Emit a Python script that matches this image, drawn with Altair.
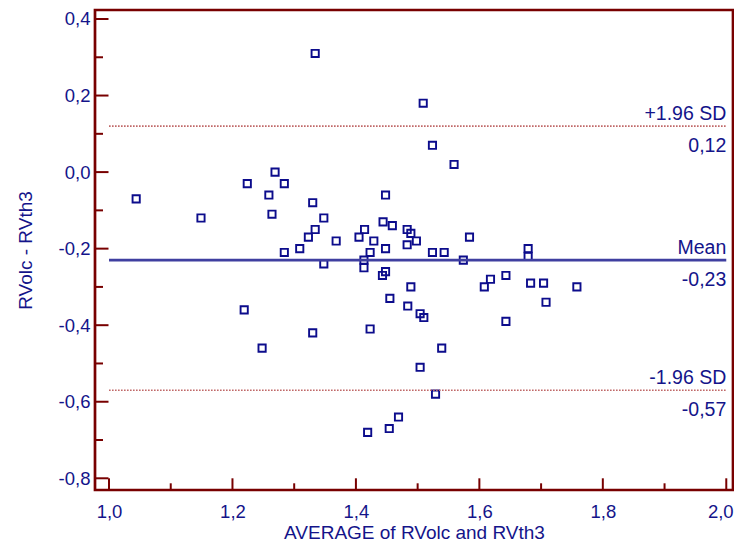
import altair as alt
import pandas as pd

# ---- data ----
avg_values = [1.044, 1.149, 1.219, 1.224, 1.248, 1.259, 1.264, 1.269, 1.284, 1.284,
              1.309, 1.323, 1.330, 1.330, 1.334, 1.334, 1.348, 1.348, 1.368, 1.405,
              1.413, 1.413, 1.414, 1.419, 1.423, 1.423, 1.429, 1.443, 1.444, 1.448,
              1.448, 1.448, 1.454, 1.455, 1.459, 1.469, 1.483, 1.483, 1.484, 1.489,
              1.489, 1.498, 1.504, 1.504, 1.509, 1.510, 1.524, 1.524, 1.529, 1.539,
              1.543, 1.559, 1.574, 1.584, 1.608, 1.618, 1.643, 1.643, 1.679, 1.679,
              1.683, 1.704, 1.708, 1.758]
diff_values = [-0.07, -0.12, -0.36, -0.03, -0.46, -0.06, -0.11, 0.00, -0.03, -0.21,
               -0.20, -0.17, -0.08, -0.42, -0.15, 0.31, -0.12, -0.24, -0.18, -0.17,
               -0.23, -0.25, -0.15, -0.68, -0.21, -0.41, -0.18, -0.27, -0.13, -0.06,
               -0.20, -0.26, -0.67, -0.33, -0.14, -0.64, -0.15, -0.19, -0.35, -0.16,
               -0.30, -0.18, -0.37, -0.51, 0.18, -0.38, 0.07, -0.21, -0.58, -0.46,
               -0.21, 0.02, -0.23, -0.17, -0.30, -0.28, -0.27, -0.39, -0.20, -0.22,
               -0.29, -0.29, -0.34, -0.30]

limit_names = ["+1.96 SD", "Mean", "-1.96 SD"]
limit_values = [0.12, -0.23, -0.57]
limit_texts = ["0,12", "-0,23", "-0,57"]
limit_kinds = ["sd", "mean", "sd"]
line_start = [1.0, 1.0, 1.0]
line_end = [2.0, 2.0, 2.0]

x_major = [1.0, 1.2, 1.4, 1.6, 1.8, 2.0]
x_minor = [1.1, 1.3, 1.5, 1.7, 1.9]
y_major = [-0.8, -0.6, -0.4, -0.2, 0.0, 0.2, 0.4]
y_minor = [-0.7, -0.5, -0.3, -0.1, 0.1, 0.3]

x_domain = [0.9773, 2.0109]
y_domain = [-0.8306, 0.4235]

x_title = "AVERAGE of RVolc and RVth3"
y_title = "RVolc - RVth3"

# ---- style ----
W, H = 638, 480
FONT = "Liberation Sans"
NAVY = "#14148a"
FRAME = "#780000"
POINT = "#0c0c8c"
MEAN = "#3f3fa0"
SD = "#c06868"
FS_TICK = 18.5
FS_TITLE = 19
FS_NOTE = 19.5

pts = pd.DataFrame({"avg": avg_values, "diff": diff_values})
lim = pd.DataFrame({"name": limit_names, "value": limit_values, "text": limit_texts,
                    "kind": limit_kinds, "x0": line_start, "x1": line_end})
xmaj = pd.DataFrame({"v": x_major})
xmin = pd.DataFrame({"v": x_minor})
ymaj = pd.DataFrame({"v": y_major})
ymin = pd.DataFrame({"v": y_minor})

xs = alt.Scale(domain=x_domain, nice=False, zero=False)
ys = alt.Scale(domain=y_domain, nice=False, zero=False)

label_expr = "replace(replace(format(datum.value, '.1f'), '.', ','), '\u2212', '-')"

x_axis = alt.Axis(values=x_major, labelExpr=label_expr, ticks=False, tickSize=0, domain=False,
                  grid=False, labelPadding=12.5, labelFontSize=FS_TICK, labelColor=NAVY,
                  labelFont=FONT, labelFlush=False, labelOverlap=False, labelBound=False,
                  labelOffset={"condition": {"test": "datum.value > 1.95", "value": -6},
                               "value": 0},
                  title=x_title, titleFontSize=FS_TITLE, titleFontWeight="normal",
                  titleColor=NAVY, titleFont=FONT, titlePadding=2.5)
y_axis = alt.Axis(values=y_major, labelExpr=label_expr, ticks=False, tickSize=0, domain=False,
                  grid=False, labelPadding=5, labelFontSize=FS_TICK, labelColor=NAVY,
                  labelFont=FONT, labelFlush=False, labelOverlap=False, labelBound=False,
                  title=y_title, titleFontSize=FS_TITLE, titleFontWeight="normal",
                  titleColor=NAVY, titleFont=FONT, titlePadding=23)


def X(field):
    return alt.X(field, scale=xs, axis=x_axis)


def Y(field):
    return alt.Y(field, scale=ys, axis=y_axis)


points = alt.Chart(pts).mark_point(shape="square", filled=False, size=52, strokeWidth=1.9,
                                   color=POINT, opacity=1).encode(
    x=X("avg:Q"), y=Y("diff:Q"))

ymaj_ticks = alt.Chart(ymaj).mark_rule(color=FRAME, strokeWidth=2).encode(
    y=Y("v:Q"), x=alt.value(0), x2=alt.value(13.5))
ymin_ticks = alt.Chart(ymin).mark_rule(color=FRAME, strokeWidth=2).encode(
    y=Y("v:Q"), x=alt.value(0), x2=alt.value(8))
xmaj_ticks = alt.Chart(xmaj).mark_rule(color=FRAME, strokeWidth=2).encode(
    x=X("v:Q"), y=alt.value(H), y2=alt.value(H - 11.7))
xmin_ticks = alt.Chart(xmin).mark_rule(color=FRAME, strokeWidth=2).encode(
    x=X("v:Q"), y=alt.value(H), y2=alt.value(H - 6.7))

base_lim = alt.Chart(lim)
mean_line = base_lim.transform_filter(alt.datum.kind == "mean").mark_rule(
    color=MEAN, strokeWidth=2.8).encode(
    x=X("x0:Q"), x2="x1:Q", y=Y("value:Q"))
sd_lines = base_lim.transform_filter(alt.datum.kind == "sd").mark_rule(
    color=SD, strokeWidth=1.6, strokeDash=[1.6, 1.4]).encode(
    x=X("x0:Q"), x2="x1:Q", y=Y("value:Q"))
name_text = base_lim.mark_text(align="right", baseline="alphabetic", dy=-6.2,
                               fontSize=FS_NOTE, font=FONT, color=NAVY).encode(
    x=X("x1:Q"), y=Y("value:Q"), text="name:N")
value_text = base_lim.mark_text(align="right", baseline="alphabetic", dy=26,
                                fontSize=FS_NOTE, font=FONT, color=NAVY).encode(
    x=X("x1:Q"), y=Y("value:Q"), text="text:N")

chart = alt.layer(
    points, ymaj_ticks, ymin_ticks, xmaj_ticks, xmin_ticks, sd_lines, mean_line,
    name_text, value_text,
).properties(
    width=W, height=H,
    autosize=alt.AutoSizeParams(type="none"),
    padding={"left": 87, "top": 2, "right": 1, "bottom": 53},
    background="white",
).configure_view(
    stroke=FRAME, strokeWidth=2.7
)

chart.save("out.html", embed_options={"renderer": "svg", "actions": False})
